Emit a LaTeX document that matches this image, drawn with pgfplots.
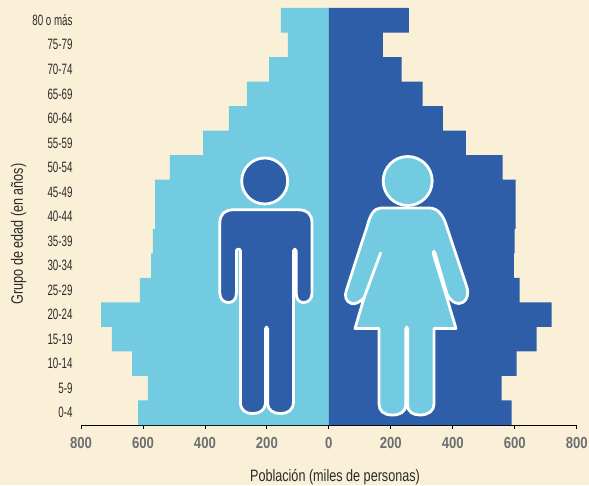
\documentclass[border=0pt]{standalone}
\usepackage{pgfplots}
\usepackage{fontspec}
\setmainfont[FakeStretch=0.65]{Liberation Sans}
\newfontfamily\tickfont[FakeStretch=0.82]{Liberation Sans}
\newfontfamily\labfont[FakeStretch=0.765]{Liberation Sans}
\pgfplotsset{compat=1.18}
\definecolor{bgc}{HTML}{FAF0D7}
\definecolor{lightb}{HTML}{72CBE0}
\definecolor{darkb}{HTML}{2F5EA9}
\definecolor{tickc}{HTML}{6D6E71}
\definecolor{txtc}{HTML}{2B2A29}
\begin{document}
\begin{tikzpicture}[x=1pt,y=1pt]
\fill[bgc] (0,0) rectangle (589,485);
\useasboundingbox (0,0) rectangle (589,485);
\begin{axis}[
  at={(81pt,60pt)}, anchor=south west,
  scale only axis, width=495.7pt, height=417pt,
  xmin=-800, xmax=800, ymin=-0.5, ymax=16.5,
  axis x line=bottom, axis y line*=left,
  axis line style={-, line width=0.9pt, black},
  y axis line style={draw=none},
  xtick={-800,-600,-400,-200,0,200,400,600,800},
  xticklabels={800,600,400,200,0,200,400,600,800},
  ytick={0,...,16},
  yticklabels={0-4,5-9,10-14,15-19,20-24,25-29,30-34,35-39,40-44,45-49,50-54,55-59,60-64,65-69,70-74,75-79,80 o más},
  xtick style={black, line width=0.8pt},
  ytick style={draw=none},
  tick align=outside, major tick length=4pt,
  xticklabel style={font=\tickfont\fontsize{16}{18}\selectfont\bfseries, text=tickc, yshift=-4.5pt},
  yticklabel style={font=\fontsize{15}{17}\selectfont, text=txtc, xshift=-1pt},
  xlabel={Población (miles de personas)},
  ylabel={Grupo de edad (en años)},
  xlabel style={font=\labfont\fontsize{16.5}{18}\selectfont, text=txtc, at={(axis description cs:0.5124,-0.1255)}, anchor=center},
  ylabel style={font=\labfont\fontsize{16.5}{18}\selectfont, text=txtc, at={(axis description cs:-0.126,0.458)}, anchor=center},
  bar width=24.53pt,
  clip=false,
]
\addplot[xbar, fill=lightb, draw=none, bar shift=0pt] coordinates {
(-616,0) (-584,1) (-635,2) (-700,3) (-735,4) (-610,5) (-574,6) (-568,7) (-561,8) (-561,9) (-513,10) (-406,11) (-323,12) (-265,13) (-193,14) (-132,15) (-155,16)};
\addplot[xbar, fill=darkb, draw=none, bar shift=0pt] coordinates {
(590,0) (558,1) (606,2) (671,3) (719,4) (616,5) (597,6) (600,7) (603,8) (603,9) (561,10) (442,11) (368,12) (303,13) (235,14) (174,15) (258,16)};
\end{axis}
\begin{scope}[shift={(0,485)},x=1pt,y=-1pt,line width=2.8pt,draw=white,line join=round]
% man
\filldraw[fill=darkb] (264.7,181) circle[radius=23pt];
\filldraw[fill=darkb]
 (219.8,223) .. controls (219.8,214) and (225,209.8) .. (233,209.8)
 -- (299,209.8) .. controls (307,209.8) and (312,214) .. (312,223)
 -- (312,293) .. controls (312,299.5) and (308,302.5) .. (303.5,302.5)
 .. controls (299,302.5) and (296.2,299.5) .. (296.2,293)
 -- (296.2,251) .. controls (296.2,248.5) and (293.4,248.5) .. (293.4,251)
 -- (293.4,402) .. controls (293.4,410) and (288,413.5) .. (280,413.5)
 .. controls (273,413.5) and (268.3,410) .. (267.6,404)
 -- (267.6,329) .. controls (267.6,326.5) and (265.4,326.5) .. (265.4,329)
 -- (265.4,404) .. controls (264.7,410) and (260,413.5) .. (253,413.5)
 .. controls (245,413.5) and (240.4,410) .. (240.4,402)
 -- (240.4,251) .. controls (240.4,248.5) and (236.4,248.5) .. (236.4,251)
 -- (236.4,293) .. controls (236.4,299.5) and (233,302.5) .. (228.5,302.5)
 .. controls (224,302.5) and (219.8,299.5) .. (219.8,293) -- cycle;
% woman
\filldraw[fill=lightb] (407.7,181) circle[radius=24.5pt];
\filldraw[fill=lightb]
 (381,208) -- (429,208)
 .. controls (438,208) and (443,215) .. (446.5,226)
 -- (466.5,286) .. controls (470,296) and (465,303.5) .. (459,303.5)
 .. controls (454,303.5) and (450,300) .. (447,294)
 -- (435,253) .. controls (434,250) and (432.5,251.5) .. (433.5,254.5)
 -- (446,295) -- (456,328.5) -- (434,328.5)
 -- (434,404) .. controls (434,411) and (428,415) .. (420,415)
 .. controls (413,415) and (407.7,412) .. (407.7,405)
 -- (407.7,329) .. controls (407.7,326.5) and (405.7,326.5) .. (405.7,329)
 -- (405.7,405) .. controls (405.7,412) and (400,415) .. (392,415)
 .. controls (384,415) and (379,411) .. (379,404)
 -- (379,328.5) -- (355,328.5) -- (364,298)
 .. controls (359,303) and (354,304.5) .. (351.5,303.5)
 .. controls (346,302) and (344,296) .. (346.5,290)
 -- (361,245) -- (367,227)
 .. controls (370,215) and (374,208) .. (381,208) -- cycle;
\draw[line width=2.8pt,line cap=round] (380.6,253) -- (364,298);
\end{scope}
\end{tikzpicture}
\end{document}
